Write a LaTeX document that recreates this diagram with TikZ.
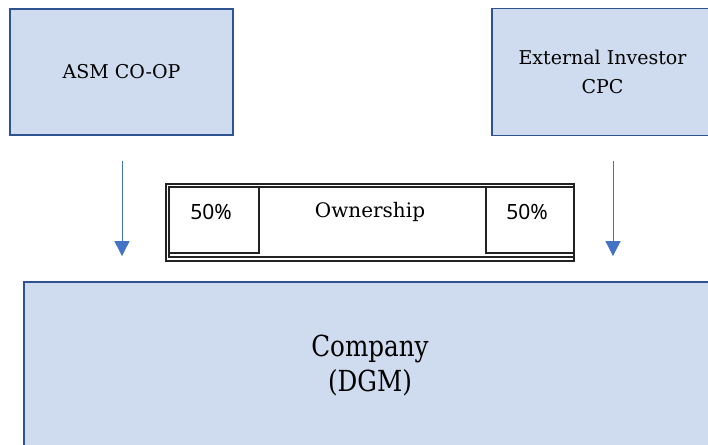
\documentclass[tikz,border=0pt]{standalone}
\usepackage{fontspec}
\newfontfamily\boxfont{DejaVu Serif}
\newfontfamily\condfont[FakeStretch=0.85]{DejaVu Serif}
\newfontfamily\pctfont{Noto Sans}
\usetikzlibrary{positioning,calc,arrows.meta}

\definecolor{boxfill}{HTML}{CFDCEF}
\definecolor{boxline}{HTML}{2F5290}
\definecolor{arrowblue}{HTML}{4472C4}
\definecolor{cellline}{HTML}{222222}

\begin{document}
\begin{tikzpicture}[x=1pt,y=-1pt]

\tikzset{every node/.style = {inner sep=0pt, align=center}}
\tikzstyle{party} = [rectangle, draw=boxline, fill=boxfill, line width=1.8pt, font=\boxfont\fontsize{19}{29}\selectfont]
\tikzstyle{cell}  = [rectangle, draw=cellline, line width=1.2pt]
\tikzstyle{share} = [->, draw=arrowblue, line width=0.9pt, >={Triangle[length=15pt,width=15pt]}]

\useasboundingbox (0,0) rectangle (708,444);
\clip (0,0) rectangle (708,444);

% owners on top, company below
\node[party, minimum width=223pt, minimum height=126pt] (asm)     at (121.5,72)  {ASM CO-OP};
\node[party, minimum width=221pt, minimum height=127pt] (ext)     at (602.5,72) {External Investor\\CPC};
\node[party, minimum width=692pt, minimum height=166pt,
      font=\condfont\fontsize{29}{35}\selectfont]         (company) at (370,365)   {Company\\(DGM)};

% ownership table
\node[cell, minimum width=408pt, minimum height=77pt] (frame) at (370,222.5) {};
\node[cell, minimum width=405pt, minimum height=70pt] (inner) at (371.5,222)  {};
\node[cell, minimum width=90pt,  minimum height=66pt] (cell_l) at (214,220)   {};
\node[cell, minimum width=88pt,  minimum height=66pt] (cell_r) at (530,220)   {};
\node[font=\boxfont\fontsize{20}{24}\selectfont] (own)   at (370,212)        {Ownership};
\node[font=\pctfont\fontsize{21}{24}\selectfont] (pct_l) at ($(cell_l.north)+(-3,26)$) {50\%};
\node[font=\pctfont\fontsize{21}{24}\selectfont] (pct_r) at ($(cell_r.north)+(-3,26)$) {50\%};

% share arrows
\coordinate (asm_out) at ($(asm.south) + (0.5,25)$);
\coordinate (asm_in)  at ($(company.north -| asm_out) + (0,-25)$);
\coordinate (ext_out) at ($(ext.south) + (10.5,25)$);
\coordinate (ext_in)  at ($(company.north -| ext_out) + (0,-25)$);

\draw[share] (asm_out) -- (asm_in);
\draw[share] (ext_out) -- (ext_in);

\end{tikzpicture}
\end{document}
